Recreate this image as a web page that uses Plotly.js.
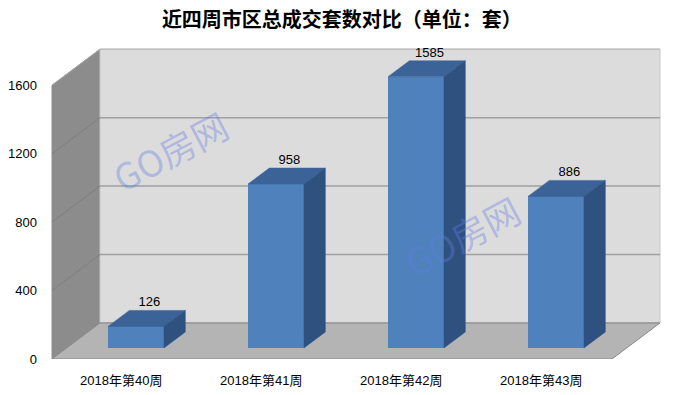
<!DOCTYPE html>
<html>
<head>
<meta charset="utf-8">
<script src="https://cdn.plot.ly/plotly-3.0.1.min.js"></script>
<style>html,body{margin:0;padding:0;background:#fff;}#chart{width:673px;height:395px;}</style>
</head>
<body>
<div id="chart"></div>
<script>
// ---- data ----
const categories = ['2018年第40周', '2018年第41周', '2018年第42周', '2018年第43周'];
const values = [126, 958, 1585, 886];
const yTickVals = [0, 400, 800, 1200, 1600];
const yTickText = ['0', '400', '800', '1200', '1600'];
const chartTitle = '近四周市区总成交套数对比（单位：套）';
const watermark = 'GO房网';

// ---- oblique projection geometry (axis units) ----
const X_FRONT_LEFT = -0.495, X_FRONT_RIGHT = 3.505;
const DEPTH_DX = 0.343, DEPTH_DY = 210.5;   // full floor depth
const Y_MAX = 1600;
const BAR_F1 = 11 / 36, BAR_F2 = 27 / 36;     // bar depth fractions
const BAR_HALF = 0.2;

const FONT = '"Liberation Sans", "Noto Sans CJK SC", sans-serif';

const shapes = [];
function poly(pts, fill, line, lw) {
  let p = 'M ' + pts.map(q => q[0] + ',' + q[1]).join(' L ') + ' Z';
  shapes.push({type: 'path', path: p, xref: 'x', yref: 'y', fillcolor: fill,
    line: {color: line || fill, width: lw === undefined ? 1 : lw}, layer: 'below'});
}
function seg(x0, y0, x1, y1, color, w) {
  shapes.push({type: 'line', xref: 'x', yref: 'y', x0, y0, x1, y1,
    line: {color, width: w || 1}, layer: 'below'});
}
const xbl = X_FRONT_LEFT + DEPTH_DX, xbr = X_FRONT_RIGHT + DEPTH_DX;
// left side wall
poly([[X_FRONT_LEFT, 0], [xbl, DEPTH_DY], [xbl, Y_MAX + DEPTH_DY], [X_FRONT_LEFT, Y_MAX]], '#8c8c8c', '#8c8c8c', 1);
// back wall
poly([[xbl, DEPTH_DY], [xbr, DEPTH_DY], [xbr, Y_MAX + DEPTH_DY], [xbl, Y_MAX + DEPTH_DY]], '#dcdcdc', '#c8c8c8', 1);
// floor
poly([[X_FRONT_LEFT, 0], [X_FRONT_RIGHT, 0], [xbr, DEPTH_DY], [xbl, DEPTH_DY]], '#b4b4b4', '#8a8a8a', 1);
// gridlines
yTickVals.forEach(v => {
  if (v === 0) return;
  seg(xbl, v + DEPTH_DY, xbr, v + DEPTH_DY, v === Y_MAX ? '#bcbcbc' : '#a0a0a0', 1.5);
  seg(X_FRONT_LEFT, v, xbl, v + DEPTH_DY, v === Y_MAX ? '#a8a8a8' : '#7e7e7e', 1);
});
seg(xbl, DEPTH_DY, xbr, DEPTH_DY, '#9a9a9a', 1);

// ---- bars ----
const baseY = BAR_F1 * DEPTH_DY;
const shiftX = BAR_F1 * DEPTH_DX;
const ddx = (BAR_F2 - BAR_F1) * DEPTH_DX, ddy = (BAR_F2 - BAR_F1) * DEPTH_DY;
const traces = [];
traces.push({
  type: 'bar', x: categories.map((c, i) => i + shiftX), y: values, base: values.map(() => baseY),
  width: BAR_HALF * 2, marker: {color: '#4f81bd', line: {width: 0}}, hoverinfo: 'skip', showlegend: false
});
values.forEach((v, i) => {
  const xl = i + shiftX - BAR_HALF, xr = i + shiftX + BAR_HALF;
  const top = baseY + v;
  traces.push({type: 'scatter', mode: 'lines', fill: 'toself', fillcolor: '#3b6398',
    line: {width: 0.5, color: '#3b6398'}, hoverinfo: 'skip', showlegend: false,
    x: [xl, xr, xr + ddx, xl + ddx, xl], y: [top, top, top + ddy, top + ddy, top]});
  traces.push({type: 'scatter', mode: 'lines', fill: 'toself', fillcolor: '#2f5180',
    line: {width: 0.5, color: '#2f5180'}, hoverinfo: 'skip', showlegend: false,
    x: [xr, xr, xr + ddx, xr + ddx, xr], y: [baseY, top, top + ddy, baseY + ddy, baseY]});
});
traces.push({
  type: 'scatter', mode: 'text', showlegend: false, hoverinfo: 'skip',
  x: values.map((v, i) => i + shiftX + ddx / 2 + 0.02),
  y: values.map(v => baseY + v + ddy + 4),
  text: values.map(v => String(v)), textposition: 'top center',
  textfont: {family: FONT, size: 13, color: '#000'}, cliponaxis: false
});

const layout = {
  width: 673, height: 395,
  margin: {l: 48, r: 10, t: 46, b: 36, pad: 0},
  paper_bgcolor: '#ffffff', plot_bgcolor: 'rgba(0,0,0,0)',
  title: {text: '<b>' + chartTitle + '</b>', xref: 'container', yref: 'container', x: 0.508, y: 0.949,
    xanchor: 'center', yanchor: 'middle', font: {family: '"Noto Sans CJK SC", sans-serif', size: 20, color: '#000'}},
  xaxis: {range: [(48 - 121.3) / 140, (663 - 121.3) / 140], showgrid: false, zeroline: false, showline: false,
    tickmode: 'array', tickvals: categories.map((c, i) => i), ticktext: categories, ticks: '',
    ticklabelstandoff: 12, tickfont: {family: FONT, size: 13, color: '#000'}, fixedrange: true},
  yaxis: {range: [0, 313 / 0.1711], showgrid: false, zeroline: false, showline: false,
    tickmode: 'array', tickvals: yTickVals, ticktext: yTickText, ticks: '',
    ticklabelstandoff: 10, tickfont: {family: FONT, size: 13, color: '#000'}, fixedrange: true},
  bargap: 0, shapes: shapes,
  annotations: [
    {x: 0.348, y: 1221, xref: 'x', yref: 'y', text: watermark, showarrow: false, textangle: -28,
      font: {family: '"Noto Sans CJK SC", sans-serif', size: 36, color: 'rgba(100,125,225,0.38)'}},
    {x: 2.431, y: 725, xref: 'x', yref: 'y', text: watermark, showarrow: false, textangle: -28,
      font: {family: '"Noto Sans CJK SC", sans-serif', size: 36, color: 'rgba(100,125,225,0.38)'}}
  ],
  showlegend: false
};
Plotly.newPlot('chart', traces, layout, {displayModeBar: false, staticPlot: true});
</script>
</body>
</html>
